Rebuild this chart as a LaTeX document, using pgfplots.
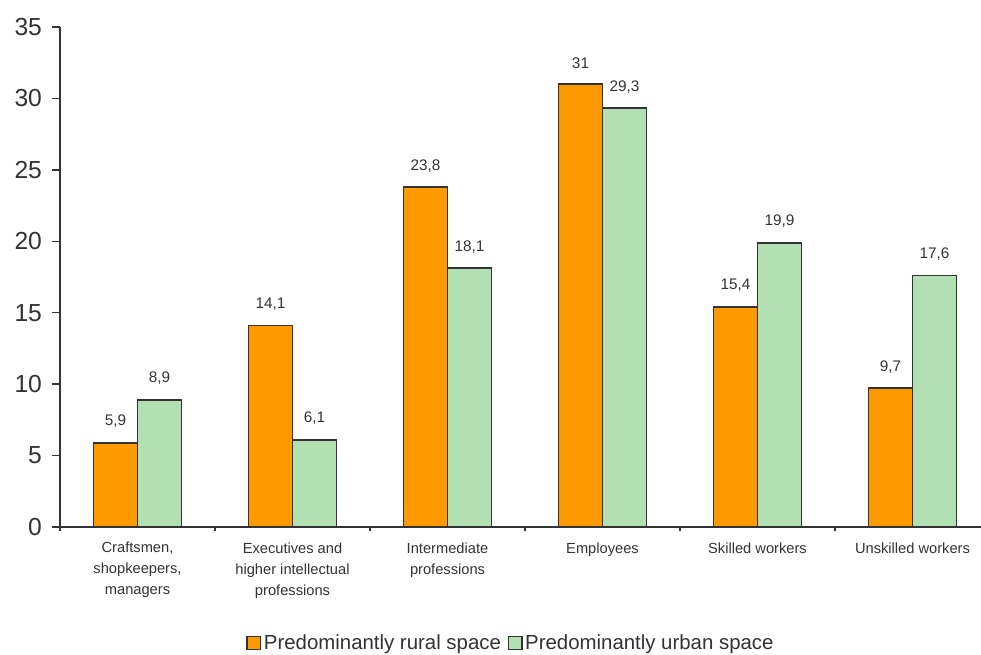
\documentclass[border=0pt]{standalone}
\usepackage{pgfplots}
\pgfplotsset{compat=1.18}
\usepackage{fontspec}
\setmainfont{Liberation Sans}
\definecolor{rural}{HTML}{FF9900}
\definecolor{urban}{HTML}{B3E0B3}
\definecolor{edge}{HTML}{333333}
\definecolor{txt}{HTML}{333333}
\begin{document}
\begin{tikzpicture}
\useasboundingbox (-45pt,-96pt) rectangle (690.75pt,395.25pt);
\begin{axis}[
  at={(0pt,0pt)}, anchor=south west,
  scale only axis,
  width=690.75pt, height=375pt,
  xmin=-0.5, xmax=5.442,
  ymin=0, ymax=35,
  ytick={0,5,...,35},
  xtick={0,...,5},
  xticklabels={{Craftsmen,\\shopkeepers,\\managers},{Executives and\\higher intellectual\\professions},{Intermediate\\professions},{Employees},{Skilled workers},{Unskilled workers}},
  minor xtick={-0.5,0.5,1.5,2.5,3.5,4.5},
  major x tick style={draw=none},
  minor tick length=3pt,
  major tick length=6pt,
  tick align=outside,
  axis x line*=bottom, axis y line*=left,
  axis line style={draw=edge, line width=1.2pt, -},
  tick style={draw=edge, line width=1pt},
  ybar=0pt, bar width=33pt,
  /pgf/number format/assume math mode=true,
  /pgf/number format/use comma,
  yticklabel style={font=\fontsize{18.5}{20}\selectfont, text=txt, xshift=-4pt},
  xticklabel style={align=center, font=\fontsize{11}{15.75}\selectfont, text=txt, yshift=-2pt},
  nodes near coords={\pgfmathprintnumber[assume math mode=true,use comma]{\pgfplotspointmeta}},
  every node near coord/.append style={font=\fontsize{11.5}{13}\selectfont, text=txt, anchor=center, yshift=16pt},
  legend style={at={(0.49,-0.232)}, anchor=center, draw=none, legend columns=2,
    font=\fontsize{15.3}{17}\selectfont, text=txt,
    /tikz/every even column/.append style={column sep=3pt}},
  legend image code/.code={\draw[#1, draw=edge, line width=1.2pt] (0pt,-5pt) rectangle (10pt,5pt);},
]
\addplot[fill=rural, draw=edge, line width=1.4pt] coordinates {(0,5.9) (1,14.1) (2,23.8) (3,31) (4,15.4) (5,9.7)};
\addplot[fill=urban, draw=edge, line width=1.4pt] coordinates {(0,8.9) (1,6.1) (2,18.1) (3,29.3) (4,19.9) (5,17.6)};
\legend{Predominantly rural space, Predominantly urban space}
\end{axis}
\end{tikzpicture}
\end{document}
